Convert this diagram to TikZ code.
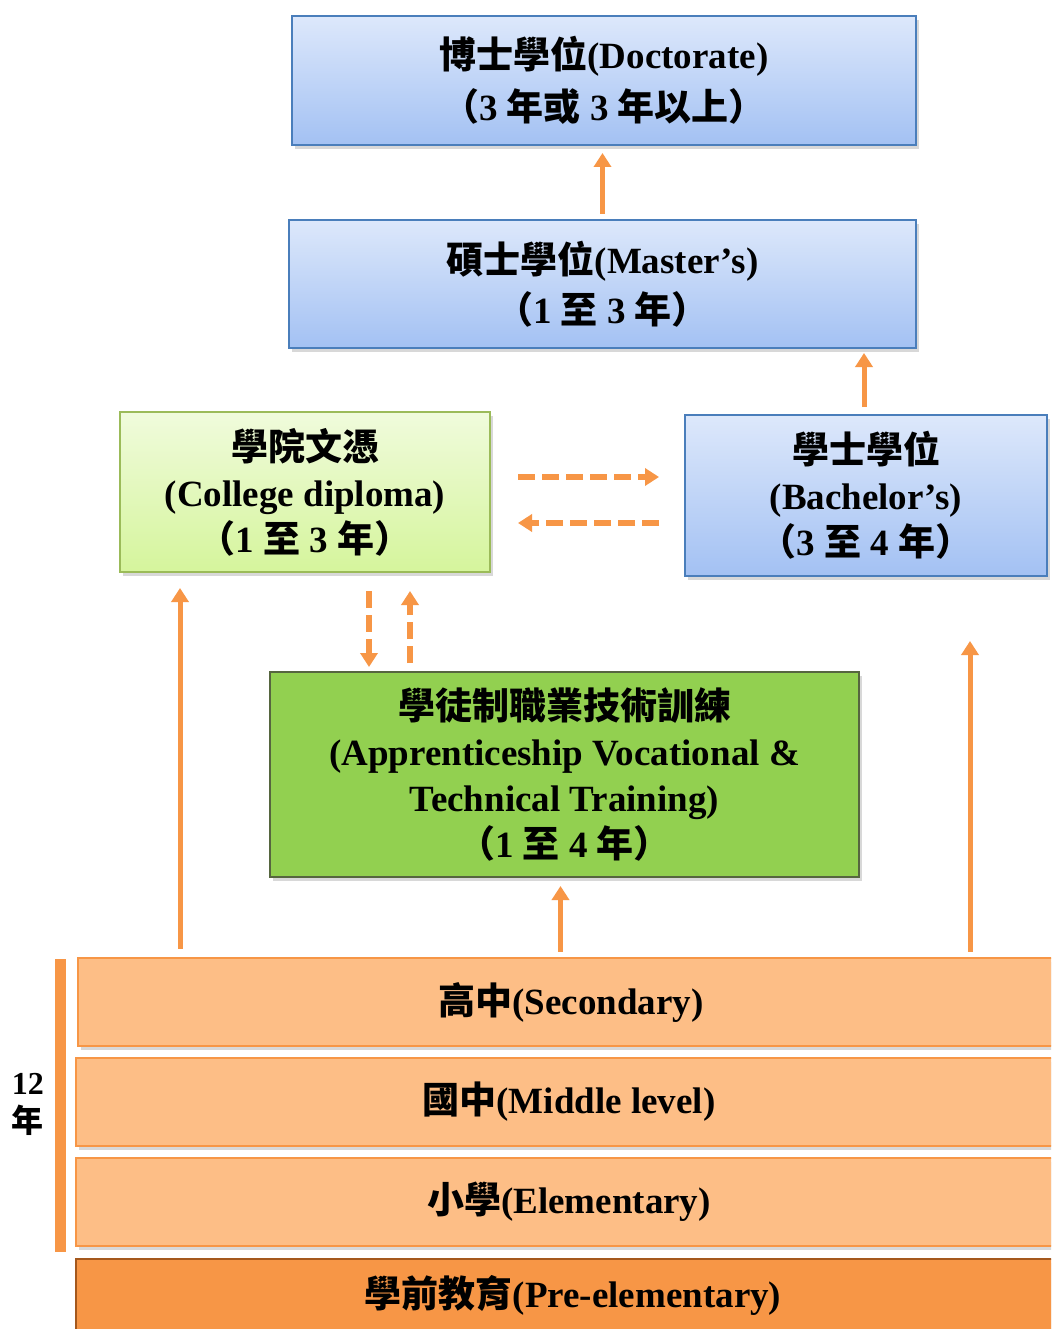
\documentclass[tikz,border=0pt]{standalone}
\usepackage{fontspec}
\setmainfont{Liberation Serif}
\newfontfamily\cjk{Noto Sans CJK TC}
\usetikzlibrary{arrows.meta, positioning, shadows}
\newcommand{\zh}[1]{{\cjk #1}}
\definecolor{blueTop}{HTML}{DDE8FB}
\definecolor{blueBot}{HTML}{A3C1F3}
\definecolor{blueLine}{HTML}{4A7EBB}
\definecolor{greenTop}{HTML}{F0FBDC}
\definecolor{greenBot}{HTML}{D5F59C}
\definecolor{greenLine}{HTML}{9BBB59}
\definecolor{apprFill}{HTML}{92D050}
\definecolor{apprLine}{HTML}{56663F}
\definecolor{barFill}{HTML}{FDBE86}
\definecolor{barLine}{HTML}{F79646}
\definecolor{preFill}{HTML}{F79646}
\definecolor{preLine}{HTML}{A4581D}
\definecolor{arrOrange}{HTML}{F79646}

\begin{document}
\begin{tikzpicture}[
      x=1pt, y=-1pt, >={Triangle[width=17pt,length=14pt]},
      box/.style={draw, line width=2pt, align=center, inner sep=0pt,
        font=\fontsize{37}{46}\selectfont\bfseries,
        drop shadow={shadow xshift=3pt, shadow yshift=-4pt, opacity=.3}},
      bluebox/.style={box, draw=blueLine, top color=blueTop, bottom color=blueBot},
      greenbox/.style={box, draw=greenLine, top color=greenTop, bottom color=greenBot},
      apprbox/.style={box, draw=apprLine, fill=apprFill},
      bar/.style={box, draw=barLine, line width=2.5pt, fill=barFill,
        minimum width=986pt, minimum height=88pt},
      arr/.style={->, draw=arrOrange, line width=5pt},
      darr/.style={arr, line width=6pt, dash pattern=on 17pt off 7pt},
      ]

      \path[use as bounding box, fill=white] (0,0) rectangle (1051,1329);
      \clip (0,0) rectangle (1051,1329);

      % degrees
      \node[bluebox, minimum width=624pt, minimum height=129pt] (doc) at (604,80.5)
        {\zh{博士學位}(Doctorate)\\[6pt]\zh{（}3 \zh{年或} 3 \zh{年以上）}};
      \node[bluebox, minimum width=627pt, minimum height=128pt] (mas) at (602.5,284)
        {\zh{碩士學位}(Master’s)\\[4pt]\zh{（}1 \zh{至} 3 \zh{年）}};
      \node[greenbox, minimum width=370pt, minimum height=160pt] (col) at (305,492)
        {\zh{學院文憑}\\(College diploma)\\\zh{（}1 \zh{至} 3 \zh{年）}};
      \node[bluebox, minimum width=362pt, minimum height=161pt] (bac) at (866,495.5)
        {\zh{學士學位}\\(Bachelor’s)\\\zh{（}3 \zh{至} 4 \zh{年）}};
      \node[apprbox, minimum width=589pt, minimum height=205pt] (app) at (564.5,774.5)
        {\zh{學徒制職業技術訓練}\\(Apprenticeship Vocational \&\\Technical Training)\\\zh{（}1 \zh{至} 4 \zh{年）}};

      % school levels
      \node[bar] (sec) at (571,1002) {\zh{高中}(Secondary)};
      \node[bar] (mid) at (569,1102) {\zh{國中}(Middle level)};
      \node[bar] (ele) at (569,1202) {\zh{小學}(Elementary)};
      \node[box, draw=preLine, fill=preFill, minimum width=994pt, minimum height=72pt]
        (pre) at (573,1295) {\zh{學前教育}(Pre-elementary)};

      \node[fill=arrOrange, minimum width=11pt, minimum height=293pt, inner sep=0pt]
        (span) at (60.5,1105.5) {};
      \node[align=center, font=\fontsize{32}{38}\selectfont\bfseries] (yrs) at (28,1104)
        {12\\\zh{年}};

      % paths
      \draw[arr, shorten <=5pt, shorten >=7pt] (mas.north) -- (mas.north |- doc.south);
      \draw[arr, shorten <=7pt, shorten >=4pt] ([xshift=-2pt]bac.north) -- ([xshift=-2pt]bac.north |- mas.south);
      \draw[darr, shorten <=27pt, shorten >=25pt] ([yshift=15pt]col.east) -- ([yshift=15pt]col.east -| bac.west);
      \draw[darr, shorten <=25pt, shorten >=27pt] ([yshift=-31pt]col.east -| bac.west) -- ([yshift=-31pt]col.east);
      \draw[darr, shorten <=18pt, shorten >=4pt] ([xshift=64pt]col.south) -- ([xshift=64pt]col.south |- app.north);
      \draw[darr, shorten <=8pt, shorten >=18pt] ([xshift=105pt]col.south |- app.north) -- ([xshift=105pt]col.south);
      \draw[arr, shorten <=5pt, shorten >=8pt] ([xshift=-4pt]app.south |- sec.north) -- ([xshift=-4pt]app.south);
      \draw[arr, shorten <=8pt, shorten >=15pt] ([xshift=-125pt]col.south |- sec.north) -- ([xshift=-125pt]col.south);
      \draw[arr, shorten <=5pt, shorten >=64pt] ([xshift=104pt]bac.south |- sec.north) -- ([xshift=104pt]bac.south);
    \end{tikzpicture}
\end{document}
